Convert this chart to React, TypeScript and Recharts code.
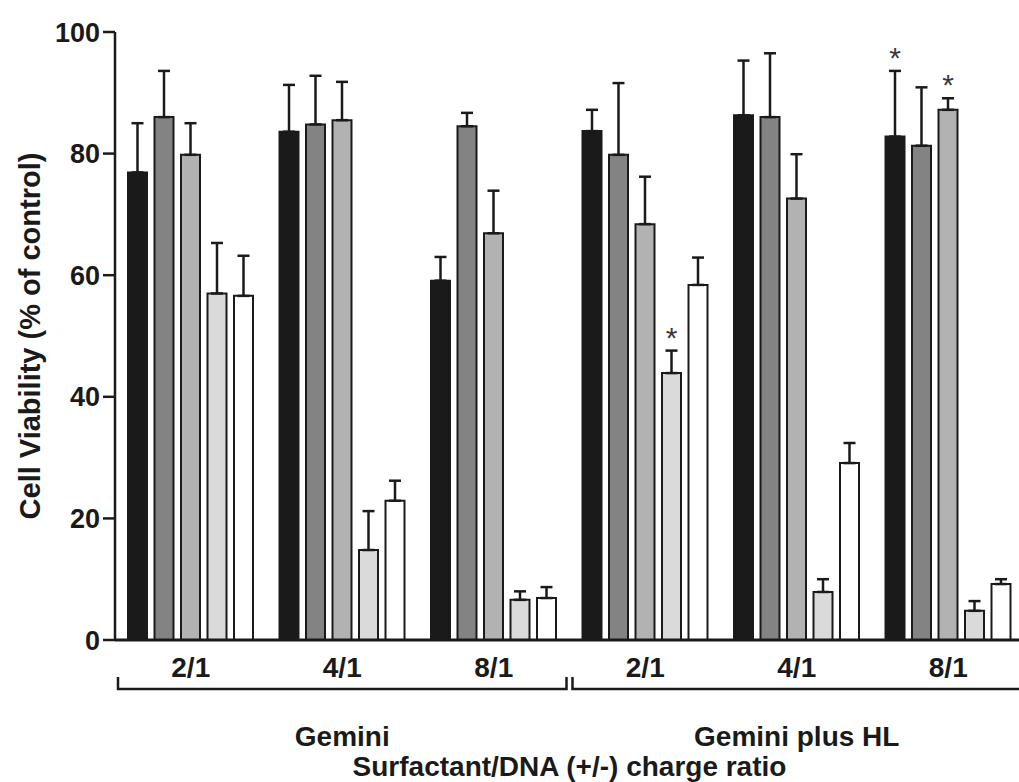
import { BarChart, Bar, XAxis, YAxis, ErrorBar, LabelList, Label } from "recharts";

// x categories: surfactant/DNA charge ratio, split in two systems
const ratios = ["2/1", "4/1", "8/1", "2/1", "4/1", "8/1"];
const systems = ["Gemini", "Gemini plus HL"];
const yTicks = [0, 20, 40, 60, 80, 100];

// five bar series (black -> white) with upper SEM
const blackVals = [76.9, 83.6, 59.1, 83.7, 86.3, 82.8];
const blackErr = [8.1, 7.7, 3.9, 3.5, 9.0, 10.8];
const darkVals = [86.0, 84.8, 84.5, 79.8, 86.0, 81.3];
const darkErr = [7.6, 8.0, 2.2, 11.8, 10.5, 9.6];
const midVals = [79.8, 85.5, 66.9, 68.4, 72.6, 87.2];
const midErr = [5.2, 6.3, 7.0, 7.8, 7.3, 1.9];
const lightVals = [57.0, 14.8, 6.6, 43.9, 7.9, 4.8];
const lightErr = [8.3, 6.4, 1.4, 3.7, 2.1, 1.6];
const whiteVals = [56.6, 22.9, 6.9, 58.4, 29.1, 9.2];
const whiteErr = [6.6, 3.3, 1.8, 4.5, 3.3, 0.8];

// significance stars (*)
const blackStar = [false, false, false, false, false, true];
const darkStar = [false, false, false, false, false, false];
const midStar = [false, false, false, false, false, true];
const lightStar = [false, false, false, true, false, false];
const whiteStar = [false, false, false, false, false, false];

const series = [
  { key: "black", vals: blackVals, err: blackErr, star: blackStar, fill: "#1a1a1a" },
  { key: "dark", vals: darkVals, err: darkErr, star: darkStar, fill: "#838383" },
  { key: "mid", vals: midVals, err: midErr, star: midStar, fill: "#b2b2b2" },
  { key: "light", vals: lightVals, err: lightErr, star: lightStar, fill: "#dadada" },
  { key: "white", vals: whiteVals, err: whiteErr, star: whiteStar, fill: "#ffffff" },
];

const data = ratios.map((ratio, i) => {
  const row: Record<string, any> = { ratio };
  series.forEach((s) => {
    row[s.key] = s.vals[i];
    row[s.key + "Err"] = [0, s.err[i]];
  });
  return row;
});

const CHART_W = 1030;
const CHART_H = 782;
const MARGIN = { top: 32, right: 6, left: 0, bottom: 0 };
const Y_W = 115;
const BAND = (CHART_W - MARGIN.left - MARGIN.right - Y_W) / ratios.length;
const INK = "#1a1a1a";
const FONT = "'Liberation Sans', Arial, sans-serif";

function RatioTick(props: any) {
  const { x, y, payload, index } = props;
  const i = index ?? payload?.index ?? 0;
  const first = i % 3 === 0;
  const left = x - BAND / 2 + 3;
  const right = x + BAND * 2.5 - 3;
  return (
    <g>
      <text x={x} y={y + 37} textAnchor="middle" fontSize={28} fontWeight="bold" fill={INK} fontFamily={FONT}>
        {ratios[i]}
      </text>
      {first && (
        <g>
          <path
            d={`M${left},${y + 37} L${left},${y + 49} L${right},${y + 49} L${right},${y + 37}`}
            fill="none"
            stroke={INK}
            strokeWidth={2.5}
          />
          <text x={x + BAND} y={y + 106} textAnchor="middle" fontSize={28} fontWeight="bold" fill={INK} fontFamily={FONT}>
            {systems[i / 3]}
          </text>
        </g>
      )}
    </g>
  );
}

function starLabel(s: typeof series[number]) {
  return (props: any) => {
    const vb = props.viewBox ?? props;
    const { x, y, width, height } = vb;
    const i = props.index;
    if (!s.star[i]) return null;
    const pxPerUnit = height / s.vals[i];
    const capY = y - s.err[i] * pxPerUnit;
    return (
      <text x={x + width / 2} y={capY - 3} textAnchor="middle" fontSize={30} fill="#3a3a3a" fontFamily={FONT}>
        *
      </text>
    );
  };
}

export default function App() {
  return (
    <div
      style={{
        position: "absolute",
        left: 0,
        top: 0,
        width: 1019,
        height: 782,
        overflow: "hidden",
        background: "#fff",
        fontFamily: FONT,
      }}
    >
      <BarChart width={CHART_W} height={CHART_H} data={data} margin={MARGIN} barSize={19} barGap={7.5}>
        <YAxis
          width={Y_W}
          domain={[0, 100]}
          ticks={yTicks}
          interval={0}
          axisLine={{ stroke: INK, strokeWidth: 2.5 }}
          tickLine={{ stroke: INK, strokeWidth: 2.5 }}
          tickSize={12}
          tickMargin={3}
          tick={{ fontSize: 27, fontWeight: "bold", fill: INK, fontFamily: FONT }}
        >
          <Label
            content={(p: any) => {
              const vb = p.viewBox;
              const cx = vb.x + 30;
              const cy = vb.y + vb.height / 2;
              return (
                <text
                  x={cx}
                  y={cy}
                  transform={`rotate(-90, ${cx}, ${cy})`}
                  textAnchor="middle"
                  dominantBaseline="central"
                  fontSize={29}
                  fontWeight="bold"
                  fill={INK}
                  fontFamily={FONT}
                >
                  Cell Viability (% of control)
                </text>
              );
            }}
          />
        </YAxis>
        <XAxis
          dataKey="ratio"
          height={142}
          interval={0}
          axisLine={{ stroke: INK, strokeWidth: 3 }}
          tickLine={false}
          tickSize={0}
          tickMargin={0}
          tick={<RatioTick />}
        >
          <Label
            value="Surfactant/DNA (+/-) charge ratio"
            position="insideBottom"
            offset={6}
            style={{ fontSize: 28, fontWeight: "bold", fill: INK, fontFamily: FONT }}
          />
        </XAxis>
        {series.map((s) => (
          <Bar
            key={s.key}
            dataKey={s.key}
            fill={s.fill}
            stroke={INK}
            strokeWidth={2}
            isAnimationActive={false}
          >
            <ErrorBar dataKey={s.key + "Err"} direction="y" width={6} stroke={INK} strokeWidth={2.5} />
            <LabelList dataKey={s.key} content={starLabel(s)} />
          </Bar>
        ))}
      </BarChart>
    </div>
  );
}
